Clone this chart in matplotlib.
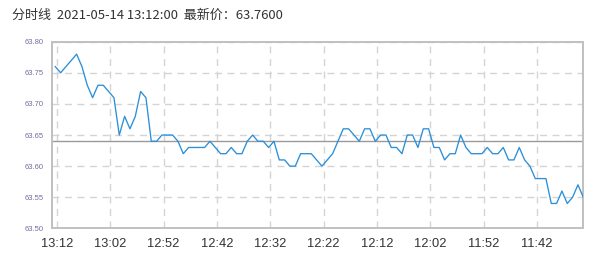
import numpy as np
import matplotlib
matplotlib.use('Agg')
import matplotlib.pyplot as plt

# minute prices, newest first (13:12 back to 11:43)
prices = [63.76, 63.75, 63.76, 63.77, 63.78, 63.76, 63.73, 63.71, 63.73, 63.73,
          63.72, 63.71, 63.65, 63.68, 63.66, 63.68, 63.72, 63.71, 63.64, 63.64,
          63.65, 63.65, 63.65, 63.64, 63.62, 63.63, 63.63, 63.63, 63.63, 63.64,
          63.63, 63.62, 63.62, 63.63, 63.62, 63.62, 63.64, 63.65, 63.64, 63.64,
          63.63, 63.64, 63.61, 63.61, 63.60, 63.60, 63.62, 63.62, 63.62, 63.61,
          63.60, 63.61, 63.62, 63.64, 63.66, 63.66, 63.65, 63.64, 63.66, 63.66,
          63.64, 63.65, 63.65, 63.63, 63.63, 63.62, 63.65, 63.65, 63.63, 63.66,
          63.66, 63.63, 63.63, 63.61, 63.62, 63.62, 63.65, 63.63, 63.62, 63.62,
          63.62, 63.63, 63.62, 63.62, 63.63, 63.61, 63.61, 63.63, 63.61, 63.60,
          63.58, 63.58, 63.58, 63.54, 63.54, 63.56, 63.54, 63.55, 63.57, 63.55]
time_labels = ['13:12', '13:02', '12:52', '12:42', '12:32',
               '12:22', '12:12', '12:02', '11:52', '11:42']
y_ticks = [63.50, 63.55, 63.60, 63.65, 63.70, 63.75, 63.80]
prev_close = 63.64
title = '分时线  2021-05-14 13:12:00  最新价：63.7600'

fig = plt.figure(figsize=(5.97, 2.64), dpi=100)
ax = fig.add_axes([0.0876, 0.135, 0.977 - 0.0876, 0.842 - 0.135])

x = np.arange(len(prices))
ax.plot(x, prices, color='#2a8fd8', lw=0.95, zorder=3)
ax.axhline(prev_close, color='#9a9a9a', lw=1.0, zorder=2)

ax.set_xlim(-0.56, len(prices) - 1)
ax.set_ylim(63.50, 63.80)

ax.set_yticks(y_ticks)
ax.set_yticklabels(['%.2f' % v for v in y_ticks], fontsize=5.5, color='#6f6fa0',
                   family='Liberation Sans')
ax.set_xticks(np.arange(0, 100, 10) + 0.3)
ax.set_xticklabels(time_labels, fontsize=9.3, color='#333333', family='Liberation Sans')
ax.tick_params(axis='y', length=0, pad=6)
ax.tick_params(axis='x', length=0, pad=7)

ax.grid(True, color='#d4d4d4', lw=1.0, linestyle=(0, (5, 4)), zorder=1)
for side in ['left', 'bottom', 'right', 'top']:
    ax.spines[side].set_color('#c0c0c0')
    ax.spines[side].set_linewidth(1.4)

fig.text(12 / 597, 1 - 15 / 264, title, fontsize=9.4, color='#333333', va='center',
         family=['Noto Sans CJK SC', 'DejaVu Sans'])

fig.savefig('out.png', dpi=100)
